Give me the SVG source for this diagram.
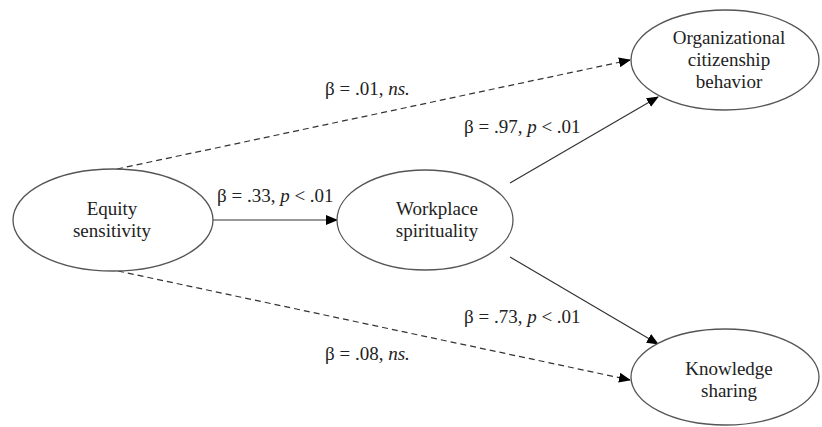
<svg xmlns="http://www.w3.org/2000/svg" width="822" height="427" viewBox="0 0 822 427">
<defs>
<marker id="ah" markerWidth="12" markerHeight="10" refX="11" refY="5" orient="auto" markerUnits="userSpaceOnUse">
<path d="M0,0 L12,5 L0,10 Z" fill="#000"/>
</marker>
<style>
.node ellipse{fill:#fff;stroke:#555;stroke-width:1.3}
.nt{font-family:"Liberation Serif","Times New Roman",serif;font-size:19px;fill:#222;text-anchor:middle}
.lbl{font-family:"Liberation Serif","Times New Roman",serif;font-size:19px;fill:#222}
.c{stroke:#333;stroke-width:1.2;fill:none}
.d{stroke-dasharray:6,4}
</style>
</defs>
<rect width="822" height="427" fill="#fff"/>
<g id="connectors">
<line class="c d" x1="117" y1="169" x2="630" y2="60" marker-end="url(#ah)"/>
<line class="c d" x1="118" y1="271" x2="630" y2="380" marker-end="url(#ah)"/>
<line class="c" x1="213" y1="220" x2="337" y2="220" marker-end="url(#ah)"/>
<line class="c" x1="510" y1="183" x2="658" y2="97" marker-end="url(#ah)"/>
<line class="c" x1="510" y1="257" x2="658" y2="344" marker-end="url(#ah)"/>
</g>
<g id="labels">
<text class="lbl" x="325" y="95">β = .01, <tspan font-style="italic">ns.</tspan></text>
<text class="lbl" x="464" y="133">β = .97, <tspan font-style="italic">p</tspan> &lt; .01</text>
<text class="lbl" x="217" y="202">β = .33, <tspan font-style="italic">p</tspan> &lt; .01</text>
<text class="lbl" x="464" y="323">β = .73, <tspan font-style="italic">p</tspan> &lt; .01</text>
<text class="lbl" x="325" y="360">β = .08, <tspan font-style="italic">ns.</tspan></text>
</g>
<g id="equity" class="node">
<ellipse cx="113" cy="220" rx="100" ry="51"/>
<text class="nt" x="112" y="215">Equity</text>
<text class="nt" x="112" y="237">sensitivity</text>
</g>
<g id="workplace" class="node">
<ellipse cx="425" cy="220" rx="88" ry="50"/>
<text class="nt" x="437" y="215">Workplace</text>
<text class="nt" x="437" y="237">spirituality</text>
</g>
<g id="ocb" class="node">
<ellipse cx="725" cy="60" rx="94" ry="50"/>
<text class="nt" x="729" y="44">Organizational</text>
<text class="nt" x="729" y="66">citizenship</text>
<text class="nt" x="729" y="88">behavior</text>
</g>
<g id="ks" class="node">
<ellipse cx="725" cy="377" rx="94" ry="48"/>
<text class="nt" x="729" y="375">Knowledge</text>
<text class="nt" x="729" y="397">sharing</text>
</g>
</svg>
